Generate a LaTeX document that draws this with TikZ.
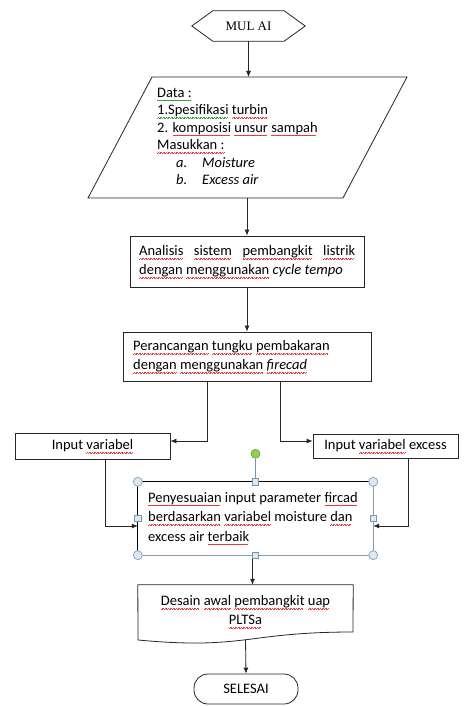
\documentclass[tikz,border=0pt]{standalone}
\usepackage{fontspec}
\setmainfont{Carlito}
\newfontfamily\mulaifont{Liberation Serif}
\usetikzlibrary{arrows.meta,calc}
\definecolor{hfill}{HTML}{DDE9F2}
\definecolor{hdraw}{HTML}{7A96AD}
\definecolor{gfill}{HTML}{8CD152}
\definecolor{gdraw}{HTML}{6A9A3A}
\definecolor{selgray}{HTML}{8A9CAB}
\definecolor{spellred}{HTML}{E04040}
\definecolor{spellgreen}{HTML}{3CA03C}
\newcommand\wavyline[1]{\rlap{\textcolor{#1}{\raisebox{-3.4pt}[0pt][0pt]{\hbox to\wd0{\leaders\hbox to 1.6pt{\rule{0.8pt}{0.45pt}\raisebox{0.5pt}{\rule{0.8pt}{0.45pt}}}\hfill}}}}}
\newcommand\rw[1]{\setbox0\hbox{#1}\wavyline{spellred}#1}
\newcommand\gw[1]{\setbox0\hbox{#1}\wavyline{spellgreen}#1}
\tikzset{
  ln/.style={draw=black!85, line width=0.8pt},
  arr/.style={ln, -{Latex[length=6pt,width=5pt]}},
  shapebox/.style={rectangle, inner sep=0pt},
  txt/.style={inner sep=0pt, font=\fontsize{14.5}{19}\selectfont},
  hcirc/.style={circle, draw=hdraw, fill=hfill, line width=0.6pt, minimum size=9pt, inner sep=0pt},
  hsq/.style={rectangle, draw=hdraw, fill=hfill, line width=0.6pt, minimum size=6.5pt, inner sep=0pt},
}
\begin{document}
\begin{tikzpicture}[x=1pt,y=-1pt]
\useasboundingbox (0,0) rectangle (467,706);
\fill[white] (0,0) rectangle (467,706);

% MULAI
\node[shapebox, minimum width=113pt, minimum height=30pt, font=\mulaifont\fontsize{13}{15}\selectfont] (mulai) at (248.5,26) {MUL AI};
\draw[ln] (mulai.west) -- ([xshift=21pt]mulai.north west) -- ([xshift=-21pt]mulai.north east)
  -- (mulai.east) -- ([xshift=-21pt]mulai.south east) -- ([xshift=21pt]mulai.south west) -- cycle;

% Data parallelogram
\coordinate (ptop) at (247,77);
\coordinate (pbot) at (247,198);
\draw[ln] (152,77) -- (407,77) -- (343,198) -- (88,198) -- cycle;
\node[txt, font=\fontsize{14.5}{17.5}\selectfont, align=left, anchor=west] (datatxt) at (157,136.5) {%
\gw{Data :}\\
\gw{1.Spesifikasi} \rw{turbin}\\
2. \rw{komposisi} \rw{unsur} \rw{sampah}\\
\rw{Masukkan :}\\
\hspace*{19pt}\makebox[26pt][l]{\textit{a.}}\textit{Moisture}\\
\hspace*{19pt}\makebox[26pt][l]{\textit{b.}}\textit{Excess air}};

% Analisis
\node[shapebox, ln, minimum width=234pt, minimum height=51pt] (ana) at (247,261.5) {};
\node[txt, text width=216pt, align=justify, anchor=west] (anatxt) at (139,261.5) {%
\rw{Analisis} \rw{sistem} \rw{pembangkit} \rw{listrik}\linebreak
\rw{dengan} \rw{menggunakan} \textit{cycle tempo}};

% Perancangan
\node[shapebox, ln, minimum width=248pt, minimum height=49pt] (per) at (247,356.5) {};
\node[txt, align=left, anchor=west] (pertxt) at (133,356.5) {%
\rw{Perancangan} \rw{tungku} \rw{pembakaran}\\
\rw{dengan} \rw{menggunakan} \rw{\textit{firecad}}};

% Inputs
\node[shapebox, ln, txt, minimum width=155pt, minimum height=26pt] (in1) at (92.5,446) {Input \rw{variabel}};
\node[shapebox, ln, txt, minimum width=145pt, minimum height=24pt] (in2) at (385.5,446) {Input \rw{variabel} excess};

% Penyesuaian (selected box)
\node[shapebox, minimum width=235pt, minimum height=73pt] (pen) at (255.5,518.5) {};
\node[txt, font=\fontsize{14.5}{19.5}\selectfont, align=left, anchor=west] (pentxt) at (148,517) {%
\rw{Penyesuaian} input parameter \rw{fircad}\\
\rw{berdasarkan} \rw{variabel} moisture \rw{dan}\\
excess air \rw{terbaik}};
\draw[black, line width=1.3pt] (pen.south west) -- (pen.north west) -- (pen.north east);
\draw[selgray, line width=0.8pt] (pen.north east) -- (pen.south east) -- (pen.south west);

% Desain (document shape)
\node[shapebox, minimum width=215pt, minimum height=58.6pt] (des) at (245.5,614.3) {};
\draw[ln] (des.north west) -- (des.north east) -- (353,632)
  .. controls (245.5,632) and (245.5,650) .. (138,640) -- cycle;
\node[txt, align=center] (destxt) at (245.5,610.5) {\rw{Desain} \rw{awal} \rw{pembangkit} \rw{uap}\\ \rw{PLTSa}};
\coordinate (desb) at (245.5,640);

% SELESAI
\node[shapebox, ln, txt, rounded corners=14pt, minimum width=104pt, minimum height=30pt] (sel) at (246,689) {SELESAI};

% connectors
\draw[arr] (mulai.south) -- (mulai.south |- ptop);
\draw[arr] (pbot) -- (ana.north);
\draw[arr] (ana.south) -- (per.north);
\draw[arr] ([xshift=-40pt]per.south) |- ([yshift=5pt]in1.east);
\draw[arr] ([xshift=33pt]per.south) |- ([yshift=5pt]in2.west);
\draw[arr] ([xshift=12.5pt]in1.south) |- ([yshift=-7.5pt]pen.west);
\draw[arr] ([xshift=22.5pt]in2.south) |- ([yshift=-7.5pt]pen.east);
\draw[arr] ([xshift=-3pt]pen.south) -- ([xshift=-3pt]pen.south |- des.north);
\draw[arr] (desb) -- (sel.north);

% selection handles
\node[circle, draw=gdraw, fill=gfill, line width=0.6pt, minimum size=9pt, inner sep=0pt] (rot) at ([yshift=28pt]pen.north) {};
\draw[hdraw, line width=0.8pt] (rot.south) -- (pen.north);
\node[hcirc] (h1) at (pen.north west) {};
\node[hcirc] (h2) at (pen.north east) {};
\node[hcirc] (h3) at (pen.south west) {};
\node[hcirc] (h4) at (pen.south east) {};
\node[hsq] (s1) at (pen.north) {};
\node[hsq] (s2) at (pen.south) {};
\node[hsq] (s3) at (pen.west) {};
\node[hsq] (s4) at (pen.east) {};
\end{tikzpicture}
\end{document}
